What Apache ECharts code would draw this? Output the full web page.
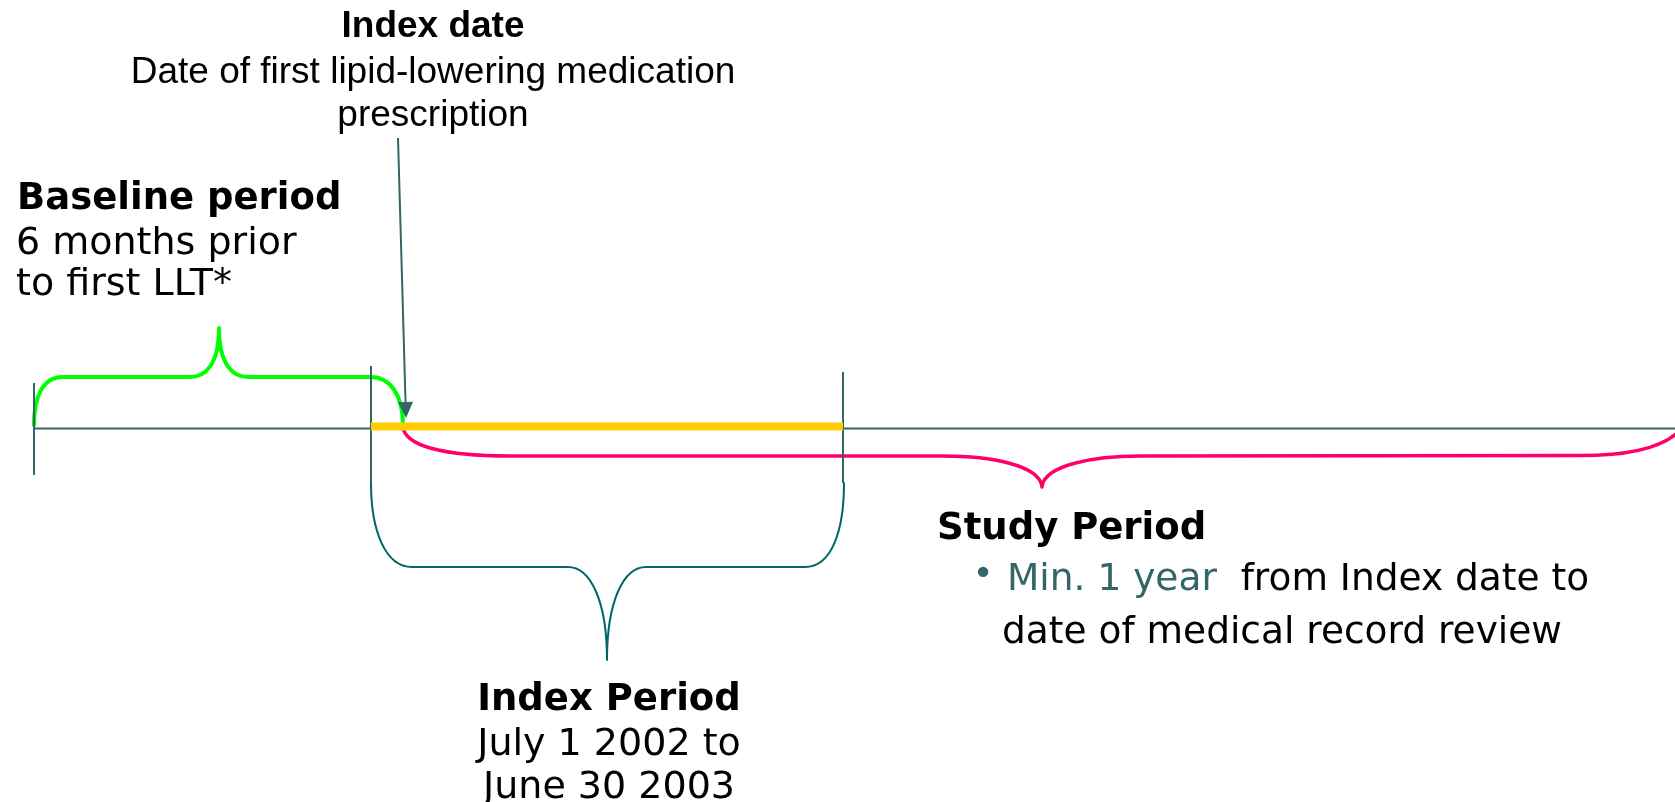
<!DOCTYPE html>
<html>
<head>
<meta charset="utf-8">
<title>Study design timeline</title>
<script src="https://cdn.jsdelivr.net/npm/echarts@6/dist/echarts.min.js"></script>
<style>
html, body { margin: 0; padding: 0; background: #fff; }
#main { width: 1675px; height: 802px; }
</style>
</head>
<body>
<div id="main"></div>
<script>
// axis units match the slide's pixels
const xExtent = [0, 1675];
const yExtent = [0, 802];

const timeline = [[34, 428.5], [1675, 428.5]];
const indexBar = [[371, 426.5], [843, 426.5]];
// x, top, bottom
const periodTicks = [[34, 383, 475], [371, 366, 483], [843, 372, 483]];
// index date pointer: from -> tip
const indexArrow = [[398, 138, 406, 418]];

// brace outlines as path segments
const baselineBrace = [
    ['M', 34, 425], ['C', 34, 398, 42, 377, 63, 377], ['L', 190, 377],
    ['C', 205, 377, 219, 365, 219, 328], ['C', 219, 365, 233, 377, 248, 377],
    ['L', 371, 377], ['C', 390, 377, 403, 395, 403, 425]
];
const studyBrace = [
    ['M', 403, 427], ['C', 405, 445, 440, 456, 510, 456], ['L', 943, 456],
    ['C', 990, 456, 1040, 465, 1042, 487], ['C', 1044, 465, 1094, 456, 1140, 456],
    ['L', 1580, 455.5], ['C', 1625, 455.5, 1660, 448, 1677, 433]
];
const indexBrace = [
    ['M', 371, 483], ['C', 371, 530, 385, 567, 412, 567], ['L', 568, 567],
    ['C', 590, 567, 607, 600, 607, 660], ['C', 607, 600, 624, 567, 646, 567],
    ['L', 805, 567], ['C', 832, 567, 844, 530, 844, 483]
];

const indexDateLines = ['Index date', 'Date of first lipid-lowering medication', 'prescription'];
const baselineLines = ['Baseline period', '6 months prior', 'to first LLT*'];
const studyLines = ['Study Period', 'Min. 1 year', '  from Index date to', 'date of medical record review'];
const indexPeriodLines = ['Index Period', 'July 1 2002 to', 'June 30 2003'];

const TEAL = '#336666';
const SANS = '"DejaVu Sans", Verdana, sans-serif';
const ARIAL = '"Liberation Sans", Arial, sans-serif';

let myChart = echarts.init(document.getElementById('main'));

/**
 * 花括号
 */
function braceSeries(segs, color, width) {
    return {
        type: 'custom',
        silent: true,
        data: [0],
        renderItem: function (params, api) {
            let d = '';
            segs.forEach(function (s) {
                let pts = [];
                for (let i = 1; i < s.length; i += 2) {
                    pts.push(api.coord([s[i], s[i + 1]]).join(' '));
                }
                d += s[0] + ' ' + pts.join(' ') + ' ';
            });
            return {
                type: 'path',
                shape: { pathData: d },
                style: { fill: 'none', stroke: color, lineWidth: width, lineCap: 'round', lineJoin: 'round' }
            };
        }
    };
}

function txt(x, y, text, font, align, fill) {
    return {
        type: 'text', x: x, y: y, silent: true,
        style: { text: text, font: font, fill: fill || '#000', align: align || 'left', verticalAlign: 'middle' }
    };
}

myChart.setOption({
    animation: false,
    grid: { left: 0, right: 0, top: 0, bottom: 0 },
    xAxis: { type: 'value', min: xExtent[0], max: xExtent[1], show: false },
    yAxis: { type: 'value', min: yExtent[0], max: yExtent[1], inverse: true, show: false },
    series: [
        {
            type: 'line', data: timeline, symbol: 'none', silent: true,
            lineStyle: { color: TEAL, width: 2 }
        },
        braceSeries(studyBrace, '#ff0066', 3.5),
        {
            type: 'line', data: indexBar, symbol: 'none', silent: true,
            lineStyle: { color: '#ffcc00', width: 8, cap: 'butt' }
        },
        braceSeries(baselineBrace, '#00ff00', 4),
        braceSeries(indexBrace, '#006666', 2),
        {
            type: 'custom', silent: true, data: periodTicks,
            renderItem: function (params, api) {
                let a = api.coord([api.value(0), api.value(1)]);
                let b = api.coord([api.value(0), api.value(2)]);
                return {
                    type: 'line',
                    shape: { x1: a[0], y1: a[1], x2: b[0], y2: b[1] },
                    style: { stroke: TEAL, lineWidth: 2 }
                };
            }
        },
        {
            type: 'custom', silent: true, data: indexArrow,
            renderItem: function (params, api) {
                let p0 = api.coord([api.value(0), api.value(1)]);
                let p1 = api.coord([api.value(2), api.value(3)]);
                let dx = p1[0] - p0[0], dy = p1[1] - p0[1];
                let len = Math.sqrt(dx * dx + dy * dy);
                let ux = dx / len, uy = dy / len;
                let bx = p1[0] - ux * 16, by = p1[1] - uy * 16;
                return {
                    type: 'group',
                    children: [
                        {
                            type: 'line',
                            shape: { x1: p0[0], y1: p0[1], x2: bx, y2: by },
                            style: { stroke: TEAL, lineWidth: 2 }
                        },
                        {
                            type: 'polygon',
                            shape: { points: [p1, [bx - uy * 7.5, by + ux * 7.5], [bx + uy * 7.5, by - ux * 7.5]] },
                            style: { fill: TEAL }
                        }
                    ]
                };
            }
        }
    ],
    graphic: [
        txt(433, 27, indexDateLines[0], 'bold 37px ' + ARIAL, 'center'),
        txt(433, 73, indexDateLines[1], '37px ' + ARIAL, 'center'),
        txt(433, 116, indexDateLines[2], '37px ' + ARIAL, 'center'),

        txt(17, 199, baselineLines[0], 'bold 37px ' + SANS),
        txt(16, 244, baselineLines[1], '38px ' + SANS),
        txt(16, 285, baselineLines[2], '38px ' + SANS),

        txt(937, 529, studyLines[0], 'bold 37px ' + SANS),
        txt(983, 576, '\u2022', '36px ' + SANS, 'center', TEAL),
        {
            type: 'text', x: 1007, y: 580, silent: true,
            style: {
                text: '{hi|' + studyLines[1] + '}{lo|' + studyLines[2] + '}',
                verticalAlign: 'middle',
                rich: {
                    hi: { fill: TEAL, fontSize: 37.5, fontFamily: SANS },
                    lo: { fill: '#000', fontSize: 37.5, fontFamily: SANS }
                }
            }
        },
        txt(1002, 633, studyLines[3], '37.5px ' + SANS),

        txt(609, 700, indexPeriodLines[0], 'bold 37px ' + SANS, 'center'),
        txt(609, 745, indexPeriodLines[1], '38px ' + SANS, 'center'),
        txt(609, 788, indexPeriodLines[2], '38px ' + SANS, 'center')
    ]
});

window.onresize = function () {
    myChart.resize();
};
</script>
</body>
</html>
